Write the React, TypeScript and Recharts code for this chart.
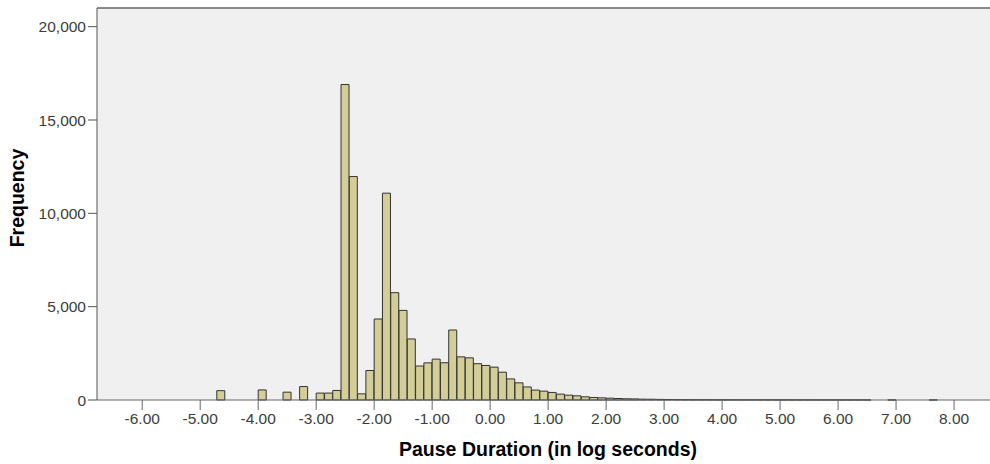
import {
  BarChart,
  Bar,
  XAxis,
  YAxis,
  CartesianGrid,
  ReferenceLine,
  Label,
} from "recharts";

document.body.style.margin = "0";

// histogram bins: width 1/7 log-second, first bin starts at -4.714
const binWidth = 1 / 7;
const firstBinStart = -4 - 5 / 7;

const frequency = [
  500, 0, 0, 0, 0, 540, 0, 0, 420, 0, 720, 0,
  370, 370, 510, 16900, 11970, 330, 1580, 4340, 11080, 5750, 4800, 3270,
  1820, 1990, 2190, 1995, 3750, 2310, 2260, 1945, 1850, 1760, 1490, 1130,
  920, 700, 530, 475, 405, 315, 260, 225, 170, 135, 115, 98,
  80, 65, 58, 45, 40, 32, 27, 22, 18, 15, 14, 12,
  11, 10, 9, 8, 8, 7, 7, 6, 6, 5, 5, 5,
  4, 4, 4, 3, 3, 3, 2, 0, 0, 3, 0, 0,
  0, 0, 2,
];

const xTicks = [-6, -5, -4, -3, -2, -1, 0, 1, 2, 3, 4, 5, 6, 7, 8];
const yTicks = [0, 5000, 10000, 15000, 20000];

const data = frequency.map((count, i) => ({
  mid: firstBinStart + (i + 0.5) * binWidth,
  count,
}));

const font = "'Liberation Sans', Arial, sans-serif";
const tickStyle = { fill: "#3c3c3c", fontSize: 15.5, fontFamily: font };

export default function App() {
  return (
    <BarChart
      width={990}
      height={464}
      data={data}
      margin={{ top: 8, right: 0, bottom: 0, left: 0 }}
      barCategoryGap={0}
      style={{ fontFamily: font }}
    >
      <CartesianGrid horizontal={false} vertical={false} fill="#F0F0F0" />
      <XAxis
        type="number"
        dataKey="mid"
        domain={[-6.78, 8.62]}
        allowDataOverflow
        ticks={xTicks}
        interval={0}
        tickFormatter={(v: number) => v.toFixed(2)}
        height={64}
        tickSize={10}
        tickMargin={3}
        stroke="#666"
        tick={tickStyle}
      >
        <Label
          content={() => (
            <text
              x={548}
              y={456}
              textAnchor="middle"
              fontSize={19.5}
              fontWeight="bold"
              fill="#000"
              fontFamily={font}
            >
              Pause Duration (in log seconds)
            </text>
          )}
        />
      </XAxis>
      <YAxis
        type="number"
        domain={[0, 21000]}
        ticks={yTicks}
        interval={0}
        tickFormatter={(v: number) => v.toLocaleString("en-US")}
        width={97}
        tickSize={9}
        tickMargin={2}
        stroke="#555"
        tick={tickStyle}
      >
        <Label
          content={() => (
            <text
              x={17}
              y={198}
              transform="rotate(-90 17 198)"
              textAnchor="middle"
              dominantBaseline="central"
              fontSize={19.5}
              fontWeight="bold"
              fill="#000"
              fontFamily={font}
            >
              Frequency
            </text>
          )}
        />
      </YAxis>
      <ReferenceLine y={21000} stroke="#666" strokeWidth={1.5} />
      <Bar
        dataKey="count"
        fill="#D3CE97"
        stroke="#333"
        strokeWidth={1}
        isAnimationActive={false}
      />
    </BarChart>
  );
}
